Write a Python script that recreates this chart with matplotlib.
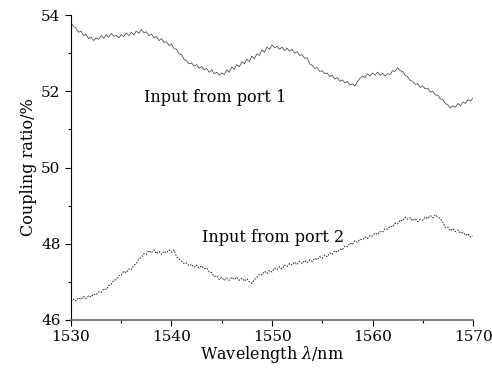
import numpy as np
import matplotlib
matplotlib.use("Agg")
import matplotlib.pyplot as plt

# wavelength grid, 0.25 nm step
wavelength = np.arange(1530, 1570.001, 0.25)

# input from port 1 (upper curve)
port1 = [
    53.80, 53.70, 53.66, 53.55, 53.58, 53.46, 53.50, 53.38,
    53.42, 53.33, 53.40, 53.36, 53.46, 53.39, 53.48, 53.42,
    53.52, 53.44, 53.47, 53.40, 53.49, 53.43, 53.53, 53.46,
    53.55, 53.48, 53.58, 53.52, 53.62, 53.54, 53.56, 53.46,
    53.50, 53.40, 53.44, 53.33, 53.38, 53.28, 53.30, 53.20,
    53.24, 53.12, 53.10, 52.98, 52.96, 52.84, 52.80, 52.72,
    52.74, 52.66, 52.70, 52.60, 52.65, 52.56, 52.60, 52.50,
    52.56, 52.46, 52.50, 52.42, 52.48, 52.44, 52.56, 52.50,
    52.64, 52.58, 52.70, 52.64, 52.78, 52.72, 52.84, 52.78,
    52.92, 52.86, 52.98, 52.94, 53.08, 53.02, 53.16, 53.10,
    53.22, 53.14, 53.18, 53.10, 53.16, 53.07, 53.13, 53.05,
    53.10, 53.00, 53.04, 52.94, 52.96, 52.86, 52.88, 52.72,
    52.68, 52.60, 52.62, 52.52, 52.54, 52.46, 52.48, 52.38,
    52.42, 52.32, 52.36, 52.26, 52.30, 52.22, 52.26, 52.16,
    52.20, 52.14, 52.26, 52.34, 52.40, 52.36, 52.46, 52.40,
    52.48, 52.42, 52.50, 52.42, 52.47, 52.40, 52.46, 52.44,
    52.54, 52.52, 52.62, 52.54, 52.52, 52.42, 52.38, 52.28,
    52.26, 52.18, 52.20, 52.10, 52.14, 52.06, 52.08, 51.98,
    52.00, 51.90, 51.90, 51.80, 51.78, 51.68, 51.64, 51.56,
    51.62, 51.58, 51.68, 51.62, 51.72, 51.68, 51.78, 51.74,
    51.82,
]

# input from port 2 (lower curve)
port2 = [
    46.48, 46.55, 46.50, 46.58, 46.54, 46.62, 46.56, 46.64,
    46.60, 46.68, 46.66, 46.74, 46.72, 46.82, 46.80, 46.90,
    46.94, 47.04, 47.06, 47.16, 47.18, 47.28, 47.24, 47.34,
    47.32, 47.44, 47.48, 47.60, 47.64, 47.74, 47.72, 47.82,
    47.76, 47.84, 47.74, 47.80, 47.72, 47.80, 47.76, 47.84,
    47.78, 47.84, 47.66, 47.60, 47.54, 47.48, 47.50, 47.42,
    47.46, 47.38, 47.44, 47.36, 47.42, 47.34, 47.36, 47.26,
    47.24, 47.14, 47.16, 47.06, 47.12, 47.04, 47.10, 47.04,
    47.12, 47.06, 47.12, 47.04, 47.10, 47.02, 47.08, 47.00,
    46.96, 47.06, 47.12, 47.20, 47.18, 47.28, 47.22, 47.30,
    47.26, 47.36, 47.32, 47.40, 47.34, 47.44, 47.40, 47.48,
    47.44, 47.52, 47.46, 47.54, 47.48, 47.56, 47.50, 47.58,
    47.54, 47.62, 47.58, 47.66, 47.62, 47.70, 47.66, 47.76,
    47.72, 47.82, 47.78, 47.86, 47.84, 47.94, 47.92, 48.02,
    47.98, 48.08, 48.04, 48.12, 48.10, 48.18, 48.14, 48.22,
    48.20, 48.28, 48.24, 48.32, 48.30, 48.40, 48.38, 48.46,
    48.44, 48.54, 48.52, 48.62, 48.60, 48.70, 48.64, 48.68,
    48.60, 48.66, 48.58, 48.64, 48.62, 48.70, 48.66, 48.74,
    48.68, 48.76, 48.70, 48.66, 48.56, 48.42, 48.44, 48.34,
    48.40, 48.32, 48.36, 48.28, 48.30, 48.22, 48.26, 48.18,
    48.20,
]

xticks = [1530, 1540, 1550, 1560, 1570]
yticks = [46, 48, 50, 52, 54]

plt.rcParams['font.family'] = ['DejaVu Serif']
plt.rcParams['mathtext.fontset'] = 'dejavuserif'

fig = plt.figure(figsize=(4.92, 3.76), dpi=100)
ax = fig.add_axes([0.1443, 0.149, 0.8171, 0.811])

ax.plot(wavelength, port1, color='#444444', lw=0.55)
ax.plot(wavelength, port2, color='#222222', lw=0.7, ls=(0, (1.6, 1.4)))

ax.text(1537.3, 51.84, 'Input from port 1', fontsize=11.5, va='center')
ax.text(1543.0, 48.16, 'Input from port 2', fontsize=11.5, va='center')

ax.set_xlim(1530, 1570)
ax.set_ylim(46, 54)
ax.set_xticks(xticks)
ax.set_yticks(yticks)
ax.set_xticks(np.arange(1535, 1570, 10), minor=True)
ax.set_yticks(np.arange(47, 54, 2), minor=True)
ax.tick_params(which='major', direction='out', length=4, width=0.8, labelsize=11)
ax.tick_params(which='minor', direction='out', length=2.5, width=0.8)

ax.spines['top'].set_visible(False)
ax.spines['right'].set_visible(False)
ax.spines['bottom'].set_color('#666666')
ax.spines['bottom'].set_linewidth(1.2)

ax.set_xlabel(r'Wavelength $\lambda$/nm', fontsize=11.5, labelpad=0)
ax.set_ylabel('Coupling ratio/%', fontsize=11.5, labelpad=3)

fig.savefig('out.png', dpi=100)
